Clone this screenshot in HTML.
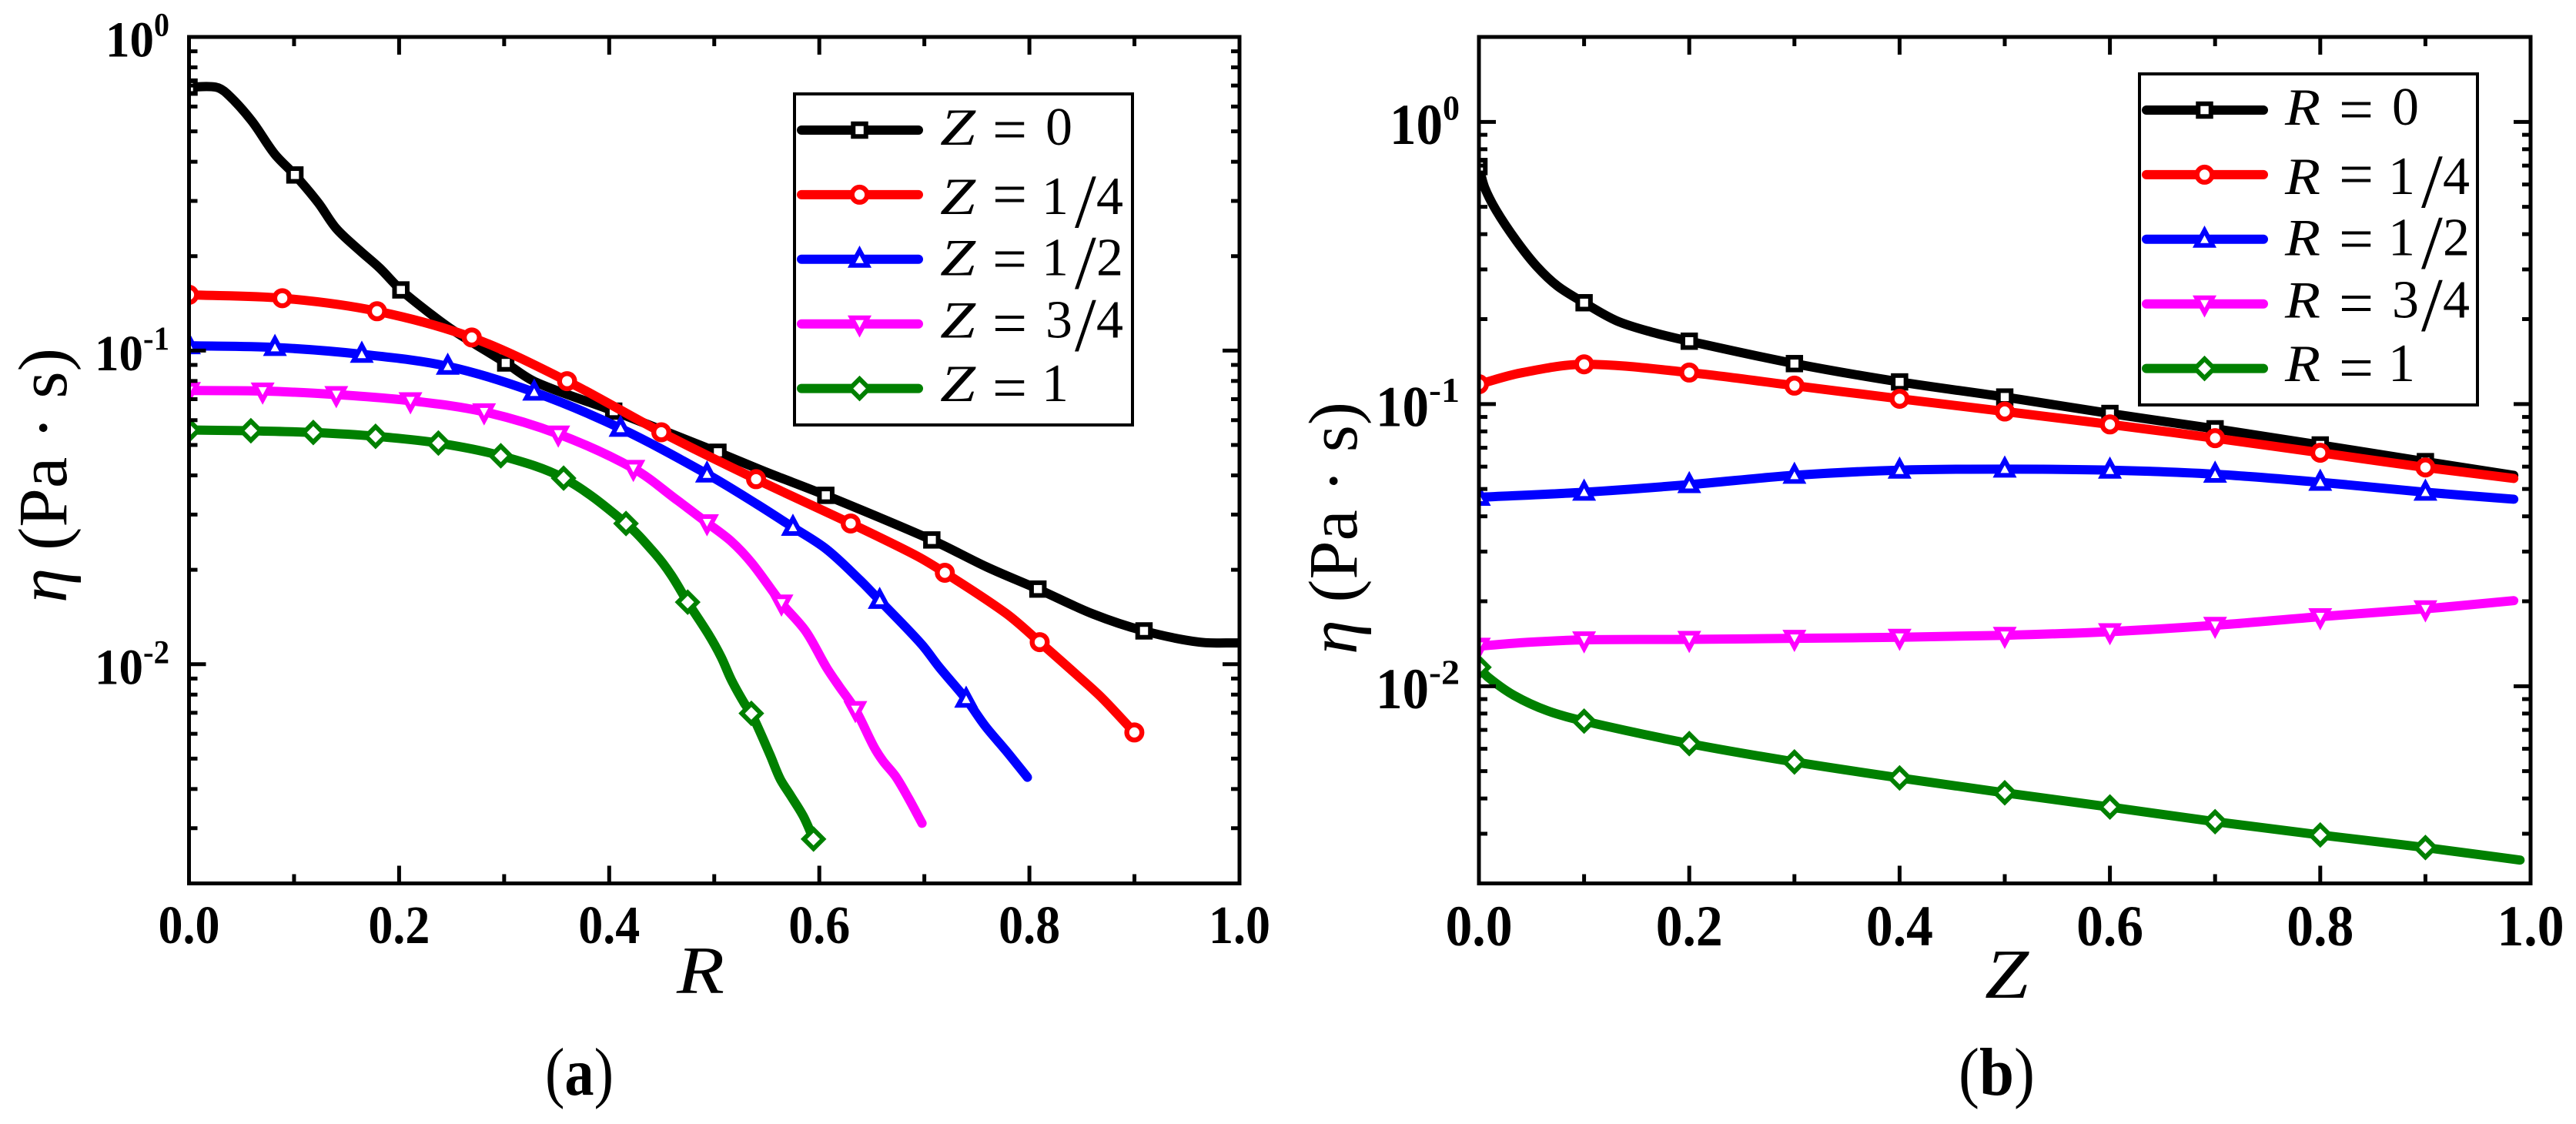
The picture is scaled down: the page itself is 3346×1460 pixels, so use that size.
<!DOCTYPE html>
<html lang="en">
<head>
<meta charset="utf-8">
<title>Viscosity profiles</title>
<style>
html,body{margin:0;padding:0;background:#fff}
svg{display:block}
text{font-family:"Liberation Serif","DejaVu Serif",serif;fill:#000}
</style>
</head>
<body>
<svg id="figure" xmlns="http://www.w3.org/2000/svg" width="3346" height="1460" viewBox="0 0 3346 1460">
  <rect x="0" y="0" width="3346" height="1460" fill="#fff"/>
  <g id="panel-a"></g>
  <g id="panel-b"></g>
  <text transform="translate(86 783) rotate(-90)" font-size="90" textLength="331" lengthAdjust="spacingAndGlyphs"><tspan font-style="italic">η</tspan> (Pa · s)</text>
  <text transform="translate(1762 850) rotate(-90)" font-size="90" textLength="328" lengthAdjust="spacingAndGlyphs"><tspan font-style="italic">η</tspan> (Pa · s)</text>
  <text x="879" y="1290" font-size="88" font-style="italic" textLength="62" lengthAdjust="spacingAndGlyphs">R</text>
  <text x="2578" y="1296" font-size="91" font-style="italic" textLength="57" lengthAdjust="spacingAndGlyphs">Z</text>
  <text x="708" y="1422" font-size="88" textLength="89" lengthAdjust="spacingAndGlyphs">(<tspan font-weight="bold">a</tspan>)</text>
  <text x="2544" y="1422" font-size="88" textLength="99" lengthAdjust="spacingAndGlyphs">(<tspan font-weight="bold">b</tspan>)</text>
</svg>
<script>
// Shared axis data
const xMajorTicks = [0, 0.2, 0.4, 0.6, 0.8, 1.0];
const xMinorTicks = [0.1, 0.3, 0.5, 0.7, 0.9];
const xTickLabels = ['0.0', '0.2', '0.4', '0.6', '0.8', '1.0'];
const yMajorTicks = [1, 0.1, 0.01];
const yTickExponents = ['0', '-1', '-2'];
const yMinorTicks = [0.9,0.8,0.7,0.6,0.5,0.4,0.3,0.2,0.09,0.08,0.07,0.06,0.05,0.04,0.03,0.02,0.009,0.008,0.007,0.006,0.005,0.004,0.003];
const legendValues = ['0', '1/4', '1/2', '3/4', '1'];

// Panel (a): viscosity against R at fixed Z
const z0R = [0,0.0253,0.0363,0.0595,0.0815,0.1008,0.123,0.1401,0.1621,0.1816,0.2017,0.2305,0.2525,0.3015,0.3295,0.4043,0.5035,0.5492,0.6062,0.7071,0.7597,0.8081,0.8607,0.9091,0.9617,1];
const z0Eta = [0.692,0.692,0.6593,0.5411,0.4236,0.363,0.2961,0.2452,0.209,0.1832,0.1561,0.1305,0.1154,0.0913,0.0795,0.0641,0.0474,0.041,0.03455,0.0249,0.0204,0.01736,0.01445,0.01277,0.01176,0.01169];
const z0Marks = [0,5,10,13,15,16,18,19,21,23];
const z14R = [0,0.0888,0.179,0.2692,0.3599,0.4496,0.5398,0.6299,0.6922,0.7195,0.7777,0.8098,0.8439,0.8692,0.8999];
const z14Eta = [0.1506,0.1469,0.1335,0.1101,0.0799,0.0549,0.0389,0.0281,0.0222,0.01957,0.01453,0.01176,0.00932,0.0078,0.00606];
const z14Marks = [0,1,2,3,4,5,6,7,9,11,14];
const z12R = [0,0.0818,0.1645,0.2463,0.3286,0.4108,0.4931,0.5407,0.5749,0.6067,0.6385,0.6575,0.6971,0.7142,0.7398,0.7581,0.7777,0.7981];
const z12Eta = [0.1036,0.1023,0.0973,0.0891,0.0737,0.0565,0.0404,0.03236,0.02732,0.02328,0.01857,0.01597,0.0116,0.00978,0.00773,0.00634,0.0053,0.00436];
const z12Marks = [0,1,2,3,4,5,6,8,11,14];
const z34R = [0,0.0701,0.1402,0.2108,0.2809,0.3515,0.423,0.465,0.4931,0.5163,0.5359,0.564,0.5871,0.6067,0.6189,0.6343,0.6519,0.6605,0.6726,0.6849,0.6978];
const z34Eta = [0.0746,0.0743,0.0724,0.0692,0.0638,0.0542,0.0421,0.03329,0.02826,0.02463,0.02098,0.01567,0.01274,0.00978,0.0085,0.00717,0.00546,0.00492,0.00439,0.00374,0.00311];
const z34Marks = [0,1,2,3,4,5,6,8,11,15];
const z1R = [0,0.0589,0.1183,0.1776,0.2374,0.2968,0.3566,0.416,0.4442,0.4589,0.4747,0.4943,0.5065,0.5163,0.5285,0.5353,0.5529,0.5627,0.5725,0.5847,0.5945];
const z1Eta = [0.0558,0.0555,0.0548,0.0533,0.0507,0.0462,0.0392,0.0281,0.0224,0.01928,0.01577,0.01249,0.01055,0.00891,0.00752,0.00697,0.00516,0.00431,0.00382,0.00328,0.00277];
const z1Marks = [0,1,2,3,4,5,6,7,10,15,20];

// Panel (b): viscosity against Z at fixed R
const r0Z = [0,0.0054,0.0164,0.0359,0.0554,0.0749,0.1,0.131,0.1652,0.2,0.3,0.4,0.5,0.6,0.7,0.8,0.9,0.984];
const r0Eta = [0.6946,0.586,0.4856,0.3777,0.3062,0.2617,0.2286,0.1972,0.1795,0.167,0.1391,0.1198,0.1059,0.0926,0.0817,0.0716,0.0625,0.0559];
const r0Marks = [0,6,9,10,11,12,13,14,15,16];
const r14Z = [0,0.0399,0.1,0.2,0.3,0.4,0.5,0.6,0.7,0.8,0.9,0.984];
const r14Eta = [0.1176,0.1289,0.1383,0.1293,0.1162,0.1044,0.0941,0.0847,0.0757,0.0672,0.0596,0.0545];
const r14Marks = [0,2,3,4,5,6,7,8,9,10];
const r12Z = [0,0.1,0.2,0.3,0.4,0.5,0.6,0.7,0.8,0.9,0.984];
const r12Eta = [0.0467,0.0487,0.0518,0.0559,0.0583,0.0588,0.0583,0.0564,0.0528,0.0487,0.046];
const r12Marks = [0,1,2,3,4,5,6,7,8,9];
const r34Z = [0,0.0456,0.1,0.2,0.3,0.4,0.5,0.6,0.7,0.8,0.9,0.984];
const r34Eta = [0.01386,0.0143,0.0146,0.01465,0.01478,0.01491,0.01515,0.01561,0.01644,0.01764,0.01881,0.0201];
const r34Marks = [0,2,3,4,5,6,7,8,9,10];
const r1Z = [0,0.009,0.0335,0.0652,0.1,0.2,0.3,0.4,0.5,0.6,0.7,0.8,0.9,0.99];
const r1Eta = [0.01167,0.01074,0.00927,0.00818,0.00752,0.00626,0.00539,0.00473,0.00419,0.00373,0.00331,0.00297,0.00268,0.00242];
const r1Marks = [0,4,5,6,7,8,9,10,11,12];

const NS = 'http://www.w3.org/2000/svg';
function mk(tag, attrs, parent) {
  const el = document.createElementNS(NS, tag);
  for (const k in attrs) el.setAttribute(k, attrs[k]);
  if (parent) parent.appendChild(el);
  return el;
}
function smoothPath(pts) {
  const n = pts.length;
  const tan = [];
  for (let i = 0; i < n; i++) {
    const a = pts[Math.max(i - 1, 0)], b = pts[Math.min(i + 1, n - 1)];
    const d = Math.hypot(b[0] - a[0], b[1] - a[1]) || 1;
    tan.push([(b[0] - a[0]) / d, (b[1] - a[1]) / d]);
  }
  let s = 'M' + pts[0][0].toFixed(2) + ' ' + pts[0][1].toFixed(2);
  for (let i = 0; i < n - 1; i++) {
    const p = pts[i], q = pts[i + 1];
    const L = Math.hypot(q[0] - p[0], q[1] - p[1]) / 3;
    s += 'C' + (p[0] + tan[i][0] * L).toFixed(2) + ' ' + (p[1] + tan[i][1] * L).toFixed(2) + ' ' +
      (q[0] - tan[i + 1][0] * L).toFixed(2) + ' ' + (q[1] - tan[i + 1][1] * L).toFixed(2) + ' ' +
      q[0].toFixed(2) + ' ' + q[1].toFixed(2);
  }
  return s;
}
function markerShape(kind, cx, cy, color, parent) {
  const base = {fill: '#fff', stroke: color, 'stroke-width': 6, 'stroke-linejoin': 'miter', 'stroke-miterlimit': 8};
  let el;
  if (kind === 'square') {
    el = mk('rect', Object.assign({x: cx - 8.25, y: cy - 8.25, width: 16.5, height: 16.5}, base), parent);
  } else if (kind === 'circle') {
    el = mk('circle', Object.assign({cx: cx, cy: cy, r: 9.8}, base), parent);
    el.setAttribute('stroke-width', 6.4);
  } else if (kind === 'up') {
    el = mk('polygon', Object.assign({points: [cx, cy - 11.5, cx - 10.5, cy + 8, cx + 10.5, cy + 8].join(' ')}, base), parent);
  } else if (kind === 'down') {
    el = mk('polygon', Object.assign({points: [cx, cy + 11.5, cx - 10.5, cy - 8, cx + 10.5, cy - 8].join(' ')}, base), parent);
  } else {
    el = mk('polygon', Object.assign({points: [cx, cy - 12.5, cx + 12.5, cy, cx, cy + 12.5, cx - 12.5, cy].join(' ')}, base), parent);
  }
  return el;
}

function drawPanel(cfg) {
  const root = document.getElementById(cfg.id);
  const L = cfg.left, R = cfg.right, T = 48, B = 1147.5;
  const span = Math.log10(cfg.yMax) - Math.log10(0.002);
  const xScale = v => L + v * (R - L);
  const yScale = v => T + (Math.log10(cfg.yMax) - Math.log10(v)) / span * (B - T);

  const clip = mk('clipPath', {id: cfg.id + '-clip'}, root);
  mk('rect', {x: L, y: T, width: R - L, height: B - T}, clip);

  const seriesLayer = mk('g', {'clip-path': 'url(#' + cfg.id + '-clip)'}, root);
  
  
  cfg.series.forEach(s => {
    const g = mk('g', {}, seriesLayer);
    
    
    const pts = s.x.map((v, i) => [xScale(v), yScale(s.eta[i])]);
    const line = mk('path', {d: smoothPath(pts), fill: 'none', stroke: s.color, 'stroke-width': 12, 'stroke-linecap': 'round', 'stroke-linejoin': 'round'}, g);
    
    
    s.marks.forEach(i => {
      const m = markerShape(s.shape, pts[i][0], pts[i][1], s.color, g);
      
      
    });
  });

  const ticks = mk('g', {stroke: '#000', 'stroke-width': 5, fill: 'none'}, root);
  
  
  xMajorTicks.forEach(v => {
    const t1 = mk('line', {x1: xScale(v), x2: xScale(v), y1: B, y2: B - 23}, ticks);
    
    
    const t2 = mk('line', {x1: xScale(v), x2: xScale(v), y1: T, y2: T + 23}, ticks);
    
    
  });
  xMinorTicks.forEach(v => {
    const t1 = mk('line', {x1: xScale(v), x2: xScale(v), y1: B, y2: B - 12}, ticks);
    
    
    const t2 = mk('line', {x1: xScale(v), x2: xScale(v), y1: T, y2: T + 12}, ticks);
    
    
  });
  yMajorTicks.forEach(v => {
    const t1 = mk('line', {x1: L, x2: L + 22, y1: yScale(v), y2: yScale(v)}, ticks);
    
    
    const t2 = mk('line', {x1: R, x2: R - 22, y1: yScale(v), y2: yScale(v)}, ticks);
    
    
  });
  yMinorTicks.forEach(v => {
    const t1 = mk('line', {x1: L, x2: L + 11, y1: yScale(v), y2: yScale(v)}, ticks);
    
    
    const t2 = mk('line', {x1: R, x2: R - 11, y1: yScale(v), y2: yScale(v)}, ticks);
    
    
  });

  const frame = mk('rect', {x: L, y: T, width: R - L, height: B - T, fill: 'none', stroke: '#000', 'stroke-width': 5}, root);
  
  

  xMajorTicks.forEach((v, i) => {
    const t = mk('text', {x: xScale(v), y: cfg.xLabelY, 'text-anchor': 'middle', 'font-weight': 'bold', 'font-size': cfg.xFont, textLength: cfg.xLabelW, lengthAdjust: 'spacingAndGlyphs'}, root);
    t.textContent = xTickLabels[i];
    
    
  });
  yMajorTicks.forEach((v, i) => {
    const y = yScale(v);
    const exp = yTickExponents[i];
    const expW = exp === '0' ? cfg.expW0 : cfg.expW1;
    const baseEnd = cfg.expEnd - expW;
    const b = mk('text', {x: baseEnd - cfg.baseW, y: y + cfg.baseDy, 'font-weight': 'bold', 'font-size': cfg.baseFont, textLength: cfg.baseW, lengthAdjust: 'spacingAndGlyphs'}, root);
    b.textContent = '10';
    
    
    const e = mk('text', {x: baseEnd, y: y + cfg.expDy, 'font-weight': 'bold', 'font-size': cfg.expFont, textLength: expW, lengthAdjust: 'spacingAndGlyphs'}, root);
    e.textContent = exp;
    
    
  });

  const lg = mk('g', {}, root);
  
  
  const box = mk('rect', {x: cfg.lgX + 1, y: cfg.lgY + 1, width: 439, height: 430, fill: '#fff', stroke: '#000', 'stroke-width': 4}, lg);
  
  
  const baseOffsets = [19, 25, 20.5, 18, 16.5];
  cfg.series.forEach((s, i) => {
    const rowY = cfg.lgY + 48 + i * 83.9;
    const x0 = cfg.lgX + 10;
    const dx = cfg.lgDx;
    const entry = mk('g', {}, lg);
    
    
    const ln = mk('line', {x1: x0, x2: x0 + 152, y1: rowY, y2: rowY, stroke: s.color, 'stroke-width': 12, 'stroke-linecap': 'round'}, entry);
    
    
    const mm = markerShape(s.shape, x0 + 75.5, rowY, s.color, entry);
    
    
    const by = rowY + baseOffsets[i];
    const v = mk('text', {x: x0 + 180, y: by, 'font-size': 68, 'font-style': 'italic', textLength: 46, lengthAdjust: 'spacingAndGlyphs'}, entry);
    v.textContent = cfg.varName;
    
    
    const eq = mk('text', {x: x0 + 248 + dx, y: rowY + 26, 'font-size': 80}, entry);
    eq.textContent = '=';
    
    
    const parts = legendValues[i].split('/');
    const n1 = mk('text', {x: x0 + (parts[0] === '1' ? 312 : 317) + dx, y: by, 'font-size': 70}, entry);
    n1.textContent = parts[0];
    
    
    if (parts.length > 1) {
      const sl = mk('text', {x: x0 + 355 + dx, y: by + 17, 'font-size': 100}, entry);
      sl.textContent = '/';
      
      
      const n2 = mk('text', {x: x0 + 383 + dx, y: by, 'font-size': 70}, entry);
      n2.textContent = parts[1];
      
      
    }
  });
}

drawPanel({
  id: 'panel-a', left: 245.5, right: 1610, yMax: 1,
  xLabelY: 1225, xFont: 70, xLabelW: 80,
  expEnd: 220, expW0: 20, expW1: 34, baseW: 63, baseFont: 66, baseDy: 25.5, expFont: 43, expDy: -1.5,
  lgX: 1031, lgY: 121, lgDx: 0, varName: 'Z',
  series: [
    {key: 'z-0', x: z0R, eta: z0Eta, marks: z0Marks, color: '#000000', shape: 'square'},
    {key: 'z-1-4', x: z14R, eta: z14Eta, marks: z14Marks, color: '#ff0000', shape: 'circle'},
    {key: 'z-1-2', x: z12R, eta: z12Eta, marks: z12Marks, color: '#0000ff', shape: 'up'},
    {key: 'z-3-4', x: z34R, eta: z34Eta, marks: z34Marks, color: '#ff00ff', shape: 'down'},
    {key: 'z-1', x: z1R, eta: z1Eta, marks: z1Marks, color: '#008000', shape: 'diamond'}
  ]
});
drawPanel({
  id: 'panel-b', left: 1921, right: 3287, yMax: 2,
  xLabelY: 1228, xFont: 75, xLabelW: 87,
  expEnd: 1896, expW0: 22, expW1: 40, baseW: 69, baseFont: 75, baseDy: 28.5, expFont: 45, expDy: -3,
  lgX: 2778, lgY: 95, lgDx: 2, varName: 'R',
  series: [
    {key: 'r-0', x: r0Z, eta: r0Eta, marks: r0Marks, color: '#000000', shape: 'square'},
    {key: 'r-1-4', x: r14Z, eta: r14Eta, marks: r14Marks, color: '#ff0000', shape: 'circle'},
    {key: 'r-1-2', x: r12Z, eta: r12Eta, marks: r12Marks, color: '#0000ff', shape: 'up'},
    {key: 'r-3-4', x: r34Z, eta: r34Eta, marks: r34Marks, color: '#ff00ff', shape: 'down'},
    {key: 'r-1', x: r1Z, eta: r1Eta, marks: r1Marks, color: '#008000', shape: 'diamond'}
  ]
});
</script>
</body>
</html>
